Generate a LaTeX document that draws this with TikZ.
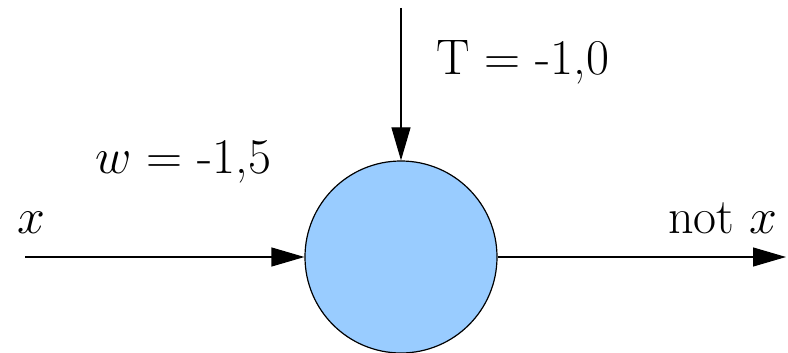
\RequirePackage{fix-cm}
\documentclass[tikz,border=0pt]{standalone}
\usetikzlibrary{arrows.meta}
\begin{document}
\begin{tikzpicture}[x=1pt,y=-1pt,
  conn/.style={line width=1.2pt,-{Triangle[length=33pt,width=19pt]}},
  neuron/.style={circle,draw,line width=1.2pt,fill={rgb,255:red,153;green,204;blue,255},minimum size=192pt,inner sep=0pt},
  lbl/.style={anchor=base west,inner sep=0pt,font=\fontsize{50}{60}\selectfont}]
\useasboundingbox (0,0) rectangle (788,353);
\node[neuron] (n) at (401,257) {};
\coordinate (in) at (25,257);
\coordinate (out) at (786,257);
\coordinate (top) at (401,8);
\draw[conn] (in) -- (n);
\draw[conn] (top) -- (n);
\draw[conn] (n) -- (out);
\node[lbl] (tl) at (436,75) {T = -1,0};
\node[lbl] (wl) at (95,173) {$w$ = -1,5};
\node[lbl] (xl) at (17,233) {$x$};
\node[lbl] (nl) at (668,233) {not $x$};
\end{tikzpicture}
\end{document}
